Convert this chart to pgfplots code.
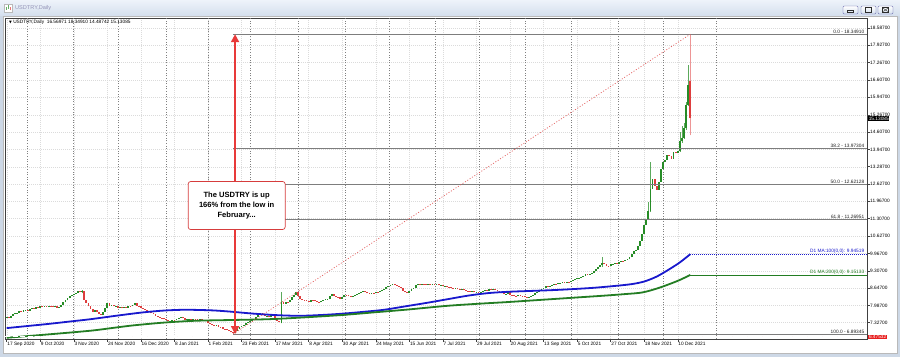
\documentclass[border=0pt]{standalone}
\usepackage{fontspec}
\setmainfont{Liberation Sans}
\newfontfamily\sym{DejaVu Sans}
\usepackage{pgfplots}
\usepackage{pgfplotstable}
\pgfplotsset{compat=1.18}
\usetikzlibrary{arrows.meta,calc}
\pgfdeclarelayer{background}
\pgfsetlayers{background,main}
\newcommand\tf{\fontsize{4.8}{5.5}\selectfont}
\definecolor{upc}{RGB}{38,140,38}
\definecolor{dnc}{RGB}{222,62,62}
\definecolor{maB}{RGB}{25,25,205}
\definecolor{maG}{RGB}{35,125,35}
\definecolor{arr}{RGB}{232,58,58}
\definecolor{fibc}{RGB}{125,125,125}
\definecolor{frameb}{RGB}{205,216,230}
\definecolor{tb1}{RGB}{238,243,250}
\definecolor{tb2}{RGB}{212,223,237}
\definecolor{boxred}{RGB}{214,60,60}
\definecolor{pricered}{RGB}{232,30,30}

\pgfplotstableread[row sep=\\]{o c\\
7.52 7.55\\ 7.55 7.52\\ 7.52 7.60\\ 7.60 7.64\\ 7.64 7.68\\ 7.68 7.70\\ 7.70 7.76\\ 7.76 7.74\\ 7.74 7.80\\ 7.80 7.83\\
7.83 7.79\\ 7.79 7.84\\ 7.84 7.88\\ 7.88 7.86\\ 7.86 7.92\\ 7.92 7.90\\ 7.90 7.95\\ 7.95 7.93\\ 7.93 7.97\\ 7.97 7.94\\
7.94 7.98\\ 7.98 7.95\\ 7.95 7.92\\ 7.92 7.96\\ 7.96 7.90\\ 7.90 7.94\\ 7.94 8.02\\ 8.02 8.10\\ 8.10 8.18\\ 8.18 8.26\\
8.26 8.33\\ 8.33 8.38\\ 8.38 8.44\\ 8.44 8.47\\ 8.47 8.52\\ 8.52 8.49\\ 8.49 8.53\\ 8.53 8.20\\ 8.20 8.08\\ 8.08 7.95\\
7.95 7.86\\ 7.86 7.74\\ 7.74 7.80\\ 7.80 7.72\\ 7.72 7.66\\ 7.66 7.62\\ 7.62 7.75\\ 7.75 7.88\\ 7.88 8.06\\ 8.06 7.98\\
7.98 8.02\\ 8.02 7.95\\ 7.95 7.97\\ 7.97 7.90\\ 7.90 7.93\\ 7.93 7.88\\ 7.88 7.92\\ 7.92 7.90\\ 7.90 7.96\\ 7.96 7.95\\
7.95 8.00\\ 8.00 8.06\\ 8.06 7.98\\ 7.98 7.95\\ 7.95 7.90\\ 7.90 7.86\\ 7.86 7.82\\ 7.82 7.78\\ 7.78 7.72\\ 7.72 7.68\\
7.68 7.65\\ 7.65 7.60\\ 7.60 7.56\\ 7.56 7.52\\ 7.52 7.49\\ 7.49 7.45\\ 7.45 7.43\\ 7.43 7.38\\ 7.38 7.40\\ 7.40 7.44\\
7.44 7.42\\ 7.42 7.46\\ 7.46 7.50\\ 7.50 7.53\\ 7.53 7.49\\ 7.49 7.44\\ 7.44 7.46\\ 7.46 7.48\\ 7.48 7.44\\ 7.44 7.47\\
7.47 7.46\\ 7.46 7.43\\ 7.43 7.45\\ 7.45 7.41\\ 7.41 7.43\\ 7.43 7.38\\ 7.38 7.31\\ 7.31 7.28\\ 7.28 7.24\\ 7.24 7.20\\
7.20 7.22\\ 7.22 7.18\\ 7.18 7.15\\ 7.15 7.10\\ 7.10 7.08\\ 7.08 7.05\\ 7.05 7.02\\ 7.02 6.96\\ 6.96 6.93\\ 6.93 7.00\\
7.00 7.08\\ 7.08 7.15\\ 7.15 7.20\\ 7.20 7.25\\ 7.25 7.32\\ 7.32 7.34\\ 7.34 7.40\\ 7.40 7.46\\ 7.46 7.44\\ 7.44 7.53\\
7.53 7.62\\ 7.62 7.70\\ 7.70 7.62\\ 7.62 7.58\\ 7.58 7.59\\ 7.59 7.55\\ 7.55 7.62\\ 7.62 7.59\\ 7.59 7.50\\ 7.50 7.40\\
7.40 7.34\\ 7.30 8.10\\ 8.10 8.05\\ 8.05 8.12\\ 8.12 8.10\\ 8.10 8.20\\ 8.20 8.29\\ 8.29 8.38\\ 8.38 8.48\\ 8.48 8.35\\
8.35 8.23\\ 8.23 8.20\\ 8.20 8.18\\ 8.18 8.16\\ 8.16 8.13\\ 8.13 8.20\\ 8.20 8.19\\ 8.19 8.15\\ 8.15 8.12\\ 8.12 8.10\\
8.10 8.16\\ 8.16 8.20\\ 8.20 8.22\\ 8.22 8.23\\ 8.23 8.33\\ 8.33 8.41\\ 8.41 8.36\\ 8.36 8.30\\ 8.30 8.29\\ 8.29 8.25\\
8.25 8.30\\ 8.30 8.40\\ 8.40 8.38\\ 8.38 8.33\\ 8.33 8.30\\ 8.30 8.33\\ 8.33 8.38\\ 8.38 8.42\\ 8.42 8.45\\ 8.45 8.50\\
8.50 8.54\\ 8.54 8.50\\ 8.50 8.45\\ 8.45 8.44\\ 8.44 8.47\\ 8.47 8.45\\ 8.45 8.49\\ 8.49 8.48\\ 8.48 8.52\\ 8.52 8.58\\
8.58 8.61\\ 8.61 8.68\\ 8.68 8.74\\ 8.74 8.78\\ 8.78 8.80\\ 8.80 8.76\\ 8.76 8.73\\ 8.73 8.70\\ 8.70 8.64\\ 8.64 8.55\\
8.55 8.48\\ 8.48 8.46\\ 8.46 8.55\\ 8.55 8.62\\ 8.62 8.67\\ 8.67 8.75\\ 8.75 8.82\\ 8.82 8.78\\ 8.78 8.81\\ 8.81 8.80\\
8.80 8.78\\ 8.78 8.81\\ 8.81 8.79\\ 8.79 8.80\\ 8.80 8.77\\ 8.77 8.79\\ 8.79 8.75\\ 8.75 8.76\\ 8.76 8.72\\ 8.72 8.74\\
8.74 8.70\\ 8.70 8.68\\ 8.68 8.66\\ 8.66 8.62\\ 8.62 8.64\\ 8.64 8.60\\ 8.60 8.58\\ 8.58 8.62\\ 8.62 8.57\\ 8.57 8.55\\
8.55 8.52\\ 8.52 8.50\\ 8.50 8.53\\ 8.53 8.48\\ 8.48 8.49\\ 8.49 8.45\\ 8.45 8.48\\ 8.48 8.52\\ 8.52 8.56\\ 8.56 8.55\\
8.55 8.60\\ 8.60 8.57\\ 8.57 8.62\\ 8.62 8.58\\ 8.58 8.55\\ 8.55 8.50\\ 8.50 8.46\\ 8.46 8.42\\ 8.42 8.44\\ 8.44 8.48\\
8.48 8.40\\ 8.40 8.38\\ 8.38 8.36\\ 8.36 8.34\\ 8.34 8.38\\ 8.38 8.35\\ 8.35 8.33\\ 8.33 8.30\\ 8.30 8.28\\ 8.28 8.32\\
8.32 8.36\\ 8.36 8.40\\ 8.40 8.45\\ 8.45 8.48\\ 8.48 8.55\\ 8.55 8.62\\ 8.62 8.66\\ 8.66 8.72\\ 8.72 8.70\\ 8.70 8.74\\
8.74 8.78\\ 8.78 8.82\\ 8.82 8.80\\ 8.80 8.84\\ 8.84 8.86\\ 8.86 8.88\\ 8.88 8.85\\ 8.85 8.90\\ 8.90 8.88\\ 8.88 8.92\\
8.92 8.95\\ 8.95 8.98\\ 8.98 9.02\\ 9.02 9.04\\ 9.04 9.07\\ 9.07 9.12\\ 9.12 9.18\\ 9.18 9.15\\ 9.15 9.20\\ 9.20 9.22\\
9.22 9.30\\ 9.30 9.36\\ 9.36 9.45\\ 9.45 9.52\\ 9.52 9.60\\ 9.60 9.55\\ 9.55 9.50\\ 9.50 9.48\\ 9.48 9.55\\ 9.55 9.57\\
9.57 9.60\\ 9.60 9.58\\ 9.58 9.65\\ 9.65 9.70\\ 9.70 9.68\\ 9.68 9.73\\ 9.73 9.75\\ 9.75 9.82\\ 9.82 9.95\\ 9.95 10.08\\
10.08 10.12\\ 10.12 10.25\\ 10.25 10.45\\ 10.45 10.72\\ 10.72 11.05\\ 11.05 11.30\\ 11.30 11.60\\ 11.60 12.45\\ 12.45 12.80\\ 12.80 12.55\\
12.55 12.40\\ 12.40 12.70\\ 12.70 13.20\\ 13.20 13.45\\ 13.45 13.55\\ 13.55 13.75\\ 13.75 13.70\\ 13.70 13.60\\ 13.60 13.85\\ 13.85 13.80\\
13.80 13.88\\ 13.88 14.25\\ 14.25 14.40\\ 14.40 14.75\\ 14.75 15.65\\ 15.65 16.40\\ 16.57 15.13\\
}\candles

\pgfplotstableread[row sep=\\]{i lo hi\\
36 8.45 8.58\\ 131 7.30 8.50\\ 284 9.45 9.85\\ 306 11.25 11.95\\ 307 11.55 13.45\\
321 13.85 14.60\\ 322 14.20 14.85\\ 323 14.35 14.95\\ 324 14.70 15.75\\ 325 15.60 17.18\\
}\wup
\pgfplotstableread[row sep=\\]{i lo hi\\
108 6.893 6.98\\ 326 14.487 18.349\\
}\wdn

\begin{document}
\begin{tikzpicture}
\begin{axis}[
  scale only axis,
  width=862bp, height=321bp,
  xmin=-0.81, xmax=410.25, ymin=6.703, ymax=18.969,
  clip mode=individual,
  axis background/.style={fill=white},
  axis line style={draw=gray!50!black, line width=0.6bp},
  tick align=outside, major tick length=2.5bp,
  tick style={draw=gray!50!black, line width=0.5bp},
  xtick pos=bottom, ytick pos=right, yticklabel pos=right,
  xtick={0,16,32,48,64,80,96,112,128,144,160,176,192,208,224,240,256,272,288,304,320},
  xticklabels={17 Sep 2020,9 Oct 2020,3 Nov 2020,24 Nov 2020,16 Dec 2020,8 Jan 2021,1 Feb 2021,23 Feb 2021,17 Mar 2021,8 Apr 2021,30 Apr 2021,24 May 2021,15 Jun 2021,7 Jul 2021,29 Jul 2021,20 Aug 2021,13 Sep 2021,5 Oct 2021,27 Oct 2021,18 Nov 2021,10 Dec 2021},
  ytick={18.587,17.927,17.267,16.607,15.947,15.267,14.607,13.947,13.287,12.627,11.967,11.307,10.627,9.967,9.307,8.647,7.987,7.327},
  yticklabels={18.58700,17.92700,17.26700,16.60700,15.94700,15.26700,14.60700,13.94700,13.28700,12.62700,11.96700,11.30700,10.62700,9.96700,9.30700,8.64700,7.98700,7.32700},
  xticklabel style={font=\tf, anchor=north west, inner sep=0.5bp},
  yticklabel style={font=\tf, anchor=west, inner sep=0.5bp},
  grid=major,
  major grid style={draw=gray!28, line width=0.35bp, dash pattern=on 1bp off 1bp},
  extra x ticks={10,31.8,53.2,76,95.9,116,139.1,161.3,182.3,204.2,225.2,247.2,269.1,291.4,313.1,338.2},
  extra x tick labels={},
  extra x tick style={grid=major, major tick length=0pt, major grid style={draw=black!50, line width=0.45bp, dash pattern=on 1bp off 1.6bp}},
  /pgf/number format/assume math mode=true,
]
% wicks
\addplot[draw=none, mark=none, forget plot, error bars/.cd, y dir=plus, y explicit, error mark=none,
  error bar style={draw=upc!75, line width=0.6bp}]
  table[x=i, y=lo, y error expr=\thisrow{hi}-\thisrow{lo}] {\wup};
\addplot[draw=none, mark=none, forget plot, error bars/.cd, y dir=plus, y explicit, error mark=none,
  error bar style={draw=dnc!55, line width=0.6bp}]
  table[x=i, y=lo, y error expr=\thisrow{hi}-\thisrow{lo}] {\wdn};
% candle bodies
\addplot[draw=none, mark=none, forget plot,
  restrict expr to domain={\thisrow{c}-\thisrow{o}}{0:100},
  error bars/.cd, y dir=plus, y explicit, error mark=none,
  error bar style={draw=upc, line width=1.8bp}]
  table[x expr=\coordindex, y=o, y error expr=\thisrow{c}-\thisrow{o}] {\candles};
\addplot[draw=none, mark=none, forget plot,
  restrict expr to domain={\thisrow{o}-\thisrow{c}}{0.0001:100},
  error bars/.cd, y dir=plus, y explicit, error mark=none,
  error bar style={draw=dnc, line width=1.8bp}]
  table[x expr=\coordindex, y=c, y error expr=\thisrow{o}-\thisrow{c}] {\candles};
% moving averages
\addplot[maB, line width=1.8bp, smooth, mark=none] coordinates {
(0,7.12)(10,7.20)(20,7.28)(30,7.37)(40,7.46)(53,7.60)(65,7.72)(75,7.79)(85,7.82)(97,7.80)
(105,7.76)(118,7.67)(130,7.61)(140,7.59)(150,7.62)(160,7.67)(170,7.74)(180,7.82)(190,7.95)
(200,8.08)(210,8.22)(220,8.36)(230,8.46)(240,8.51)(250,8.54)(260,8.57)(270,8.61)(280,8.66)
(290,8.73)(298,8.80)(304,8.90)(310,9.09)(316,9.37)(321,9.63)(326,9.945)};
\addplot[maG, line width=1.8bp, smooth, mark=none] coordinates {
(0,6.75)(20,6.88)(40,7.02)(50,7.12)(60,7.22)(75,7.33)(90,7.40)(108,7.43)(125,7.46)(140,7.52)
(160,7.62)(175,7.72)(190,7.82)(210,7.97)(225,8.05)(240,8.12)(255,8.20)(270,8.28)(285,8.36)
(295,8.42)(303,8.48)(310,8.63)(316,8.80)(321,8.96)(326,9.151)};
% MA level lines
\draw[maB, line width=0.6bp, dash pattern=on 1bp off 1bp] (axis cs:326,9.945) -- (axis cs:410.25,9.945);
\draw[maG, line width=0.6bp] (axis cs:326,9.151) -- (axis cs:410.25,9.151);
\node[anchor=south east, font=\tf, text=maB, inner sep=0.6bp] at (axis cs:409.3,9.945) {D1 MA:100(0,0): 9.94519};
\node[anchor=south east, font=\tf, text=maG, inner sep=0.6bp] at (axis cs:409.3,9.151) {D1 MA:200(0,0): 9.15133};
% fibonacci levels
\draw[fibc, line width=0.7bp] (axis cs:108,18.349) -- (axis cs:410.25,18.349);
\draw[fibc, line width=0.7bp] (axis cs:108,13.97304) -- (axis cs:410.25,13.97304);
\draw[fibc, line width=0.7bp] (axis cs:108,12.62128) -- (axis cs:410.25,12.62128);
\draw[fibc, line width=0.7bp] (axis cs:108,11.26951) -- (axis cs:410.25,11.26951);
\draw[fibc, line width=0.7bp] (axis cs:108,6.89345) -- (axis cs:410.25,6.89345);
\node[anchor=south east, font=\tf, text=gray!25!black, inner sep=0.6bp] at (axis cs:409.3,18.349) {0.0 - 18.34910};
\node[anchor=south east, font=\tf, text=gray!25!black, inner sep=0.6bp] at (axis cs:409.3,13.97304) {38.2 - 13.97304};
\node[anchor=south east, font=\tf, text=gray!25!black, inner sep=0.6bp] at (axis cs:409.3,12.62128) {50.0 - 12.62128};
\node[anchor=south east, font=\tf, text=gray!25!black, inner sep=0.6bp] at (axis cs:409.3,11.26951) {61.8 - 11.26951};
\node[anchor=south east, font=\tf, text=gray!25!black, inner sep=0.6bp] at (axis cs:409.3,6.89345) {100.0 - 6.89345};
% red double dashed level line
\draw[dnc!80, line width=0.45bp, double=white, double distance=0.9bp, dash pattern=on 5bp off 2.5bp] (axis cs:-0.81,6.799) -- (axis cs:410.25,6.799);
% dotted trend line
\draw[dnc!85, line width=0.7bp, dash pattern=on 1bp off 1.8bp] (axis cs:108,6.89345) -- (axis cs:326,18.349);
% arrow
\draw[arr, line width=2.4bp, {Triangle[length=8bp,width=8bp]}-{Triangle[length=8bp,width=8bp]}] (axis cs:108.9,18.349) -- (axis cs:108.9,6.893);
% annotation box
\node[draw=boxred, fill=white, rounded corners=2.5bp, line width=0.7bp, minimum width=97bp, minimum height=48bp, align=center, font=\bfseries\fontsize{7.6}{10}\selectfont] at (axis cs:109.66,11.804) {The USDTRY is up\\166\% from the low in\\February...};
\coordinate (O) at (rel axis cs:0,0);
\end{axis}
\coordinate (W) at ($(O)+(-5bp,-18bp)$);
% foreground items in window pixel frame
\begin{scope}[shift={(W)}, x=1bp, y=1bp]
\node[anchor=west, inner sep=0, font=\tf] at (9,334.3) {{\sym\fontsize{3.6}{4}\selectfont ▼} USDTRY,Daily\ \ 16.56971 18.34910 14.48742 15.13085};
\node[anchor=west, fill=black, text=white, inner sep=0.6bp, font=\tf] at (868,238.6) {15.13085};
\node[anchor=west, fill=pricered, text=white, inner sep=0.8bp, font=\tf] at (868,20) {6.47532};
\end{scope}
% window background
\begin{pgfonlayer}{background}
\begin{scope}[shift={(W)}, x=1bp, y=1bp]
\fill[frameb] (0,0) rectangle (900,357);
\shade[top color=tb1, bottom color=tb2] (0,341) rectangle (900,357);
\fill[white] (3,4) rectangle (897,340.5);
\draw[gray!55, line width=0.5bp] (3,4) rectangle (897,340.5);
\draw[fill=white, draw=gray!55, line width=0.4bp] (4,345) rectangle (12,353);
\draw[upc!70, line width=0.6bp] (6,347) -- (6,350) (8.5,348) -- (8.5,352);
\draw[dnc!70, line width=0.6bp] (10.5,346.5) -- (10.5,349.5);
\node[anchor=west, inner sep=0, font=\fontsize{5.6}{6}\selectfont, text=gray!80!blue!70] at (15,348.5) {USDTRY,Daily};
\foreach \a in {843,861,878}{
  \draw[rounded corners=1.2bp, draw=gray!70!blue, line width=0.4bp, top color=white, bottom color=tb2] (\a,343) rectangle ++(15,8);
}
\draw[gray!35!black, line width=0.4bp] (847.5,345) rectangle (853.5,346.4);
\draw[gray!35!black, line width=0.4bp] (865.5,344.8) rectangle (871.5,349.4);
\draw[gray!35!black, line width=0.4bp] (882.5,344.8) rectangle (888.5,349.4);
\draw[gray!35!black, line width=0.4bp] (883.3,345.5) -- (887.7,348.7) (883.3,348.7) -- (887.7,345.5);
\end{scope}
\end{pgfonlayer}
\pgfresetboundingbox
\path[use as bounding box] (W) rectangle ++(900bp,357bp);
\end{tikzpicture}
\end{document}
